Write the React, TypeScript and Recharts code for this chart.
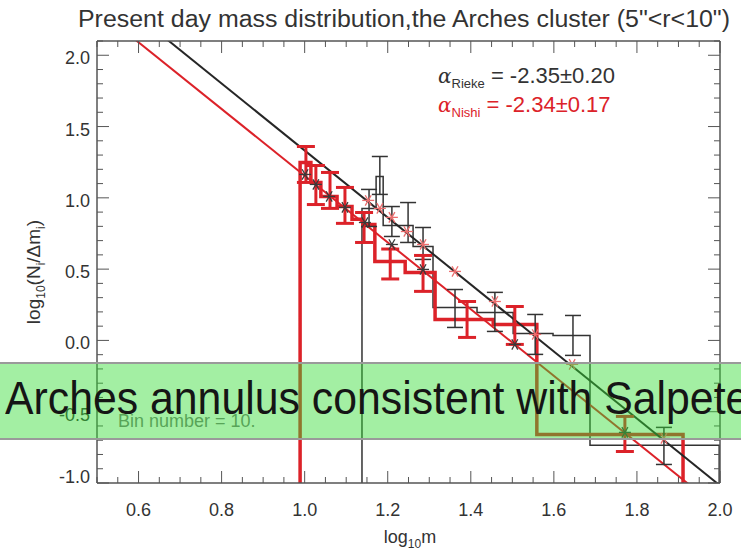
import React from 'react';
import { ComposedChart, Line, Scatter, XAxis, YAxis, ErrorBar } from 'recharts';

const W = 741;
const H = 552;
const FONT = '"Liberation Sans", Arial, sans-serif';
const AXIS = '#555';
const INK = '#333';
const RED = '#dc2229';
const PINK = '#ec6e6e';

// power-law fits (endpoints across the x range)
const riekeFit = [
  { x: 0.5, y: 2.507 },
  { x: 2.0, y: -1.018 },
];
const nishiFit = [
  { x: 0.5, y: 2.325 },
  { x: 2.0, y: -1.185 },
];

// histogram bin edges and levels
const nishiEdges = [0.989, 1.015, 1.039, 1.078, 1.114, 1.14, 1.169, 1.242, 1.314, 1.454, 1.559, 1.911];
const nishiLevels = [1.248, 1.108, 1.01, 0.94, 0.849, 0.813, 0.554, 0.477, 0.147, 0.112, -0.659];
const riekeEdges = [1.138, 1.172, 1.189, 1.261, 1.309, 1.415, 1.502, 1.598, 1.687, 1.998];
const riekeLevels = [0.926, 1.15, 0.806, 0.659, 0.231, 0.196, 0.049, 0.035, -0.736];

// error bars
const riekeErrX = [1.155, 1.181, 1.21, 1.249, 1.285, 1.362, 1.458, 1.555, 1.646, 1.865];
const riekeErrY = [0.929, 1.157, 0.834, 0.827, 0.68, 0.224, 0.2, 0.042, 0.035, -0.74];
const riekeErr = [0.13, 0.133, 0.105, 0.14, 0.112, 0.133, 0.137, 0.14, 0.14, 0.13];
const nishiErrX = [1.003, 1.027, 1.061, 1.097, 1.143, 1.206, 1.285, 1.391, 1.506, 1.771];
const nishiErrY = [1.234, 1.09, 1.052, 0.947, 0.792, 0.536, 0.47, 0.147, 0.105, -0.656];
const nishiErr = [0.126, 0.137, 0.126, 0.126, 0.105, 0.105, 0.126, 0.126, 0.133, 0.123];

// asterisk points
const darkStarX = [1.001, 1.027, 1.059, 1.097, 1.145, 1.21, 1.285, 1.506, 1.771];
const darkStarY = [1.164, 1.094, 1.01, 0.933, 0.827, 0.673, 0.498, -0.028, -0.645];
const redStarX = [1.153, 1.181, 1.21, 1.246, 1.285, 1.362, 1.458, 1.555, 1.644, 1.865];
const redStarY = [0.982, 0.926, 0.863, 0.764, 0.673, 0.484, 0.273, 0.042, -0.168, -0.687];

const xMajor = [0.6, 0.8, 1.0, 1.2, 1.4, 1.6, 1.8, 2.0];
const yMajor = [-1.0, -0.5, 0.0, 0.5, 1.0, 1.5, 2.0];
const xTicks = Array.from({ length: 31 }, (_, i) => +(0.5 + i * 0.05).toFixed(2));
const yTicks = Array.from({ length: 32 }, (_, i) => +(-1.0 + i * 0.1).toFixed(1));

const histogram = (edges: number[], levels: number[]) => {
  const pts = [{ x: edges[0], y: -1.0 }];
  levels.forEach((l, i) => pts.push({ x: edges[i], y: l }));
  const last = edges[edges.length - 1];
  pts.push({ x: last, y: levels[levels.length - 1] });
  pts.push({ x: last, y: -1.0 });
  return pts;
};

const zipErr = (xs: number[], ys: number[], es: number[]) => xs.map((x, i) => ({ x, y: ys[i], e: es[i] }));
const zipPts = (xs: number[], ys: number[]) => xs.map((x, i) => ({ x, y: ys[i] }));

const isMajor = (v: number, list: number[]) => list.some((m) => Math.abs(m - v) < 1e-6);

const Star = (color: string, r: number) => (props: any) => {
  const { cx, cy } = props;
  const dx = r * 0.5;
  const dy = r * 0.866;
  return (
    <g stroke={color} strokeWidth={1.3}>
      <line x1={cx - r} y1={cy} x2={cx + r} y2={cy} />
      <line x1={cx - dx} y1={cy - dy} x2={cx + dx} y2={cy + dy} />
      <line x1={cx - dx} y1={cy + dy} x2={cx + dx} y2={cy - dy} />
    </g>
  );
};

const Nothing = () => <g />;

// ticks point inward, labels sit outside the frame
const BottomTick = ({ x, y, payload }: any) => {
  const major = isMajor(payload.value, xMajor);
  return (
    <g>
      <line x1={x} x2={x} y1={y} y2={y - (major ? 12 : 6)} stroke={AXIS} strokeWidth={1} />
      {major && (
        <text x={x} y={y + 33} textAnchor="middle" fontSize={18} fill={INK} fontFamily={FONT}>
          {payload.value.toFixed(1)}
        </text>
      )}
    </g>
  );
};

const TopTick = ({ x, y, payload }: any) => {
  const major = isMajor(payload.value, xMajor);
  return <line x1={x} x2={x} y1={y} y2={y + (major ? 12 : 6)} stroke={AXIS} strokeWidth={1} />;
};

const LeftTick = ({ x, y, payload }: any) => {
  const major = isMajor(payload.value, yMajor);
  const shift = payload.value === -1 ? -6 : 3;
  return (
    <g>
      <line x1={x} x2={x + (major ? 12 : 6)} y1={y} y2={y} stroke={AXIS} strokeWidth={1} />
      {major && (
        <text x={x - 7} y={y + shift + 6} textAnchor="end" fontSize={18} fill={INK} fontFamily={FONT}>
          {payload.value.toFixed(1)}
        </text>
      )}
    </g>
  );
};

const RightTick = ({ x, y, payload }: any) => {
  const major = isMajor(payload.value, yMajor);
  return <line x1={x} x2={x - (major ? 12 : 6)} y1={y} y2={y} stroke={AXIS} strokeWidth={1} />;
};

const axisCommon = {
  type: 'number' as const,
  allowDataOverflow: true,
  interval: 0 as const,
  tickSize: 0,
  tickMargin: 0,
  tickLine: false,
  axisLine: { stroke: AXIS, strokeWidth: 1.5 },
};

export default function App() {
  return (
    <div style={{ position: 'absolute', left: 0, top: 0, width: W, height: H, background: '#fff' }}>
      <ComposedChart width={W} height={H} margin={{ top: 40, right: 20, bottom: 68, left: 96 }}>
        <XAxis {...axisCommon} xAxisId={0} dataKey="x" domain={[0.5, 2.0]} ticks={xTicks} height={1} tick={BottomTick} />
        <XAxis {...axisCommon} xAxisId="top" orientation="top" dataKey="x" domain={[0.5, 2.0]} ticks={xTicks} height={1} tick={TopTick} />
        <YAxis {...axisCommon} yAxisId={0} dataKey="y" domain={[-1.0, 2.1]} ticks={yTicks} width={1} tick={LeftTick} />
        <YAxis {...axisCommon} yAxisId="right" orientation="right" dataKey="y" domain={[-1.0, 2.1]} ticks={yTicks} width={1} tick={RightTick} />

        <Line data={histogram(riekeEdges, riekeLevels)} dataKey="y" type="stepAfter" stroke={INK} strokeWidth={1.5} dot={false} isAnimationActive={false} />
        <Line data={histogram(nishiEdges, nishiLevels)} dataKey="y" type="stepAfter" stroke={RED} strokeWidth={3.5} dot={false} isAnimationActive={false} />
        <Line data={riekeFit} dataKey="y" type="linear" stroke="#262626" strokeWidth={2} dot={false} isAnimationActive={false} />
        <Line data={nishiFit} dataKey="y" type="linear" stroke={RED} strokeWidth={2} dot={false} isAnimationActive={false} />

        <Scatter data={zipErr(riekeErrX, riekeErrY, riekeErr)} dataKey="y" shape={Nothing} isAnimationActive={false}>
          <ErrorBar dataKey="e" direction="y" width={8} stroke={INK} strokeWidth={1.5} />
        </Scatter>
        <Scatter data={zipErr(nishiErrX, nishiErrY, nishiErr)} dataKey="y" shape={Nothing} isAnimationActive={false}>
          <ErrorBar dataKey="e" direction="y" width={9} stroke={RED} strokeWidth={3} />
        </Scatter>
        <Scatter data={zipPts(darkStarX, darkStarY)} dataKey="y" shape={Star('#3a3a3a', 6)} isAnimationActive={false} />
        <Scatter data={zipPts(redStarX, redStarY)} dataKey="y" shape={Star(PINK, 6)} isAnimationActive={false} />

        <text x={404} y={27} textAnchor="middle" fontSize={23} fill={INK} fontFamily={FONT} textLength={652} lengthAdjust="spacingAndGlyphs">
          Present day mass distribution,the Arches cluster (5"&lt;r&lt;10")
        </text>
        <text x={438} y={83} fontSize={22} fill={INK} fontFamily={FONT}>
          <tspan fontStyle="italic" fontFamily='"DejaVu Serif", serif' fontSize={20}>α</tspan>
          <tspan fontSize={13} dy={5}>Rieke</tspan>
          <tspan dy={-5}> = -2.35±0.20</tspan>
        </text>
        <text x={438} y={112} fontSize={22} fill={RED} fontFamily={FONT}>
          <tspan fontStyle="italic" fontFamily='"DejaVu Serif", serif' fontSize={20}>α</tspan>
          <tspan fontSize={13} dy={5}>Nishi</tspan>
          <tspan dy={-5}> = -2.34±0.17</tspan>
        </text>
        <text x={118} y={427} fontSize={18} fill="#777" fontFamily={FONT}>
          Bin number = 10.
        </text>
        <text x={410} y={543} textAnchor="middle" fontSize={18} fill={INK} fontFamily={FONT}>
          log<tspan fontSize={12} dy={5}>10</tspan>
          <tspan dy={-5}>m</tspan>
        </text>
        <text transform="translate(40 272) rotate(-90)" textAnchor="middle" fontSize={19} fill={INK} fontFamily={FONT}>
          log<tspan fontSize={12} dy={5}>10</tspan>
          <tspan dy={-5}>(N</tspan>
          <tspan fontSize={12} dy={5}>i</tspan>
          <tspan dy={-5}>/Δm</tspan>
          <tspan fontSize={12} dy={5}>i</tspan>
          <tspan dy={-5}>)</tspan>
        </text>
      </ComposedChart>
      <div
        style={{
          position: 'absolute',
          left: 0,
          top: 362,
          width: W,
          height: 74,
          background: 'rgba(50, 220, 50, 0.45)',
          borderTop: '2px solid #9a9a9a',
          borderBottom: '2px solid #9a9a9a',
          overflow: 'hidden',
          whiteSpace: 'nowrap',
          pointerEvents: 'none',
        }}
      >
        <span
          style={{
            position: 'absolute',
            left: 5,
            top: 8,
            fontFamily: FONT,
            fontSize: 46,
            lineHeight: '52px',
            color: '#151515',
            transform: 'scaleX(0.93)',
            transformOrigin: '0 0',
          }}
        >
          Arches annulus consistent with Salpeter
        </span>
      </div>
    </div>
  );
}
